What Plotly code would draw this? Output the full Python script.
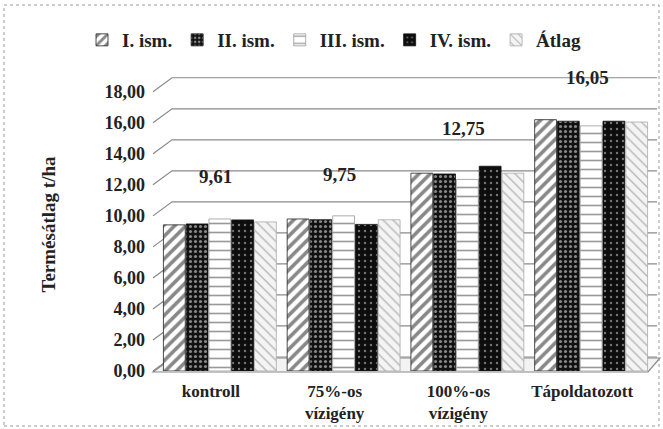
import plotly.graph_objects as go

# Yield per treatment and replicate (t/ha)
categories = ["kontroll", "75%-os<br>vízigény", "100%-os<br>vízigény", "Tápoldatozott"]
series_names = ["I. ism.", "II. ism.", "III. ism.", "IV. ism.", "Átlag"]
ism_1 = [9.42, 9.80, 12.75, 16.20]
ism_2 = [9.48, 9.75, 12.70, 16.10]
ism_3 = [9.80, 10.00, 12.35, 15.80]
ism_4 = [9.74, 9.45, 13.20, 16.10]
atlag = [9.61, 9.75, 12.75, 16.05]
y_ticks = [0, 2, 4, 6, 8, 10, 12, 14, 16, 18]

W, H = 663, 429
ML, MR, MT, MB = 158, 10, 84, 58
YMAX = 18.5
plot_w = W - ML - MR
plot_h = H - MT - MB

FONT = "'Liberation Serif', 'Times New Roman', serif"
BOLD = dict(family=FONT, size=17, color="#222", weight="bold")


def px(x):
    return (x - ML) / plot_w


def py(y):
    return (H - MB - y) / plot_h


def ypix(v):
    return H - MB - v / YMAX * plot_h


patterns = [
    dict(shape="/", fgcolor="#111", bgcolor="white", size=8, solidity=0.45),
    dict(shape=".", fgcolor="white", bgcolor="#111", size=5, solidity=0.3),
    dict(shape="-", fgcolor="#333", bgcolor="white", size=9, solidity=0.18),
    dict(shape=".", fgcolor="#ddd", bgcolor="#0d0d0d", size=6, solidity=0.12),
    dict(shape="\\", fgcolor="#777", bgcolor="#f4f4f4", size=7, solidity=0.2),
]
edge_colors = ["#222", "#111", "#999", "#111", "#aaa"]

fig = go.Figure()
for name, vals, pat, ec in zip(series_names, [ism_1, ism_2, ism_3, ism_4, atlag],
                               patterns, edge_colors):
    fig.add_trace(go.Bar(
        x=categories, y=vals, name=name,
        marker=dict(color=pat["bgcolor"], pattern=pat,
                    line=dict(color=ec, width=0.8)),
    ))

shapes = []
# back wall with receding gridlines
for v in y_ticks:
    yf = ypix(v)
    yb = yf - 14
    shapes.append(dict(
        type="path", xref="paper", yref="paper", layer="below",
        path=f"M{px(153)},{py(yf)} L{px(172)},{py(yb)} L{px(657)},{py(yb)}",
        line=dict(color="#8a8a8a", width=1.2),
    ))
# floor
y0f = ypix(0)
shapes.append(dict(
    type="path", xref="paper", yref="paper", layer="below",
    path=(f"M{px(153)},{py(y0f + 1)} L{px(648)},{py(y0f + 1)} "
          f"L{px(660)},{py(y0f - 13)} L{px(172)},{py(y0f - 13)} Z"),
    line=dict(color="#888", width=1.2), fillcolor="#f3f3f3",
))
# dotted outer frame
shapes.append(dict(
    type="rect", xref="paper", yref="paper", layer="below",
    x0=px(4), x1=px(659), y0=py(426), y1=py(5),
    line=dict(color="#9a9a9a", width=1, dash="dot"),
))

annotations = []
for cat, v in zip(categories, atlag):
    annotations.append(dict(
        x=cat, y=v, xref="x", yref="y", text=f"{v:.2f}".replace(".", ","),
        showarrow=False, yshift=45, xshift=-4,
        font=dict(BOLD, size=19),
    ))
annotations.append(dict(
    x=px(35), y=py(225), xref="paper", yref="paper",
    text="Termésátlag t/ha", textangle=-90, showarrow=False,
    font=dict(BOLD, size=19),
))

fig.update_layout(
    width=W, height=H,
    margin=dict(l=ML, r=MR, t=MT, b=MB, autoexpand=False),
    paper_bgcolor="white", plot_bgcolor="rgba(0,0,0,0)",
    barmode="group", bargap=0.08, bargroupgap=0.04,
    separators=", ",
    font=BOLD,
    showlegend=True,
    legend=dict(orientation="h", x=px(82), xref="paper", xanchor="left",
                y=py(40), yanchor="middle",
                font=dict(BOLD, size=19),
                itemwidth=30, tracegroupgap=0,
                bgcolor="rgba(0,0,0,0)"),
    shapes=shapes, annotations=annotations,
)
fig.update_xaxes(showgrid=False, zeroline=False, showline=False,
                 ticks="", ticklabelshift=-9, ticklabelstandoff=8,
                 tickangle=0, automargin=False,
                 tickfont=BOLD)
fig.update_yaxes(range=[0, YMAX], tickvals=y_ticks, tickformat=".2f",
                 showgrid=False, zeroline=False, showline=False,
                 ticks="", ticklabelstandoff=12, automargin=False,
                 tickfont=dict(BOLD, size=18))

fig.write_html("out.html")
